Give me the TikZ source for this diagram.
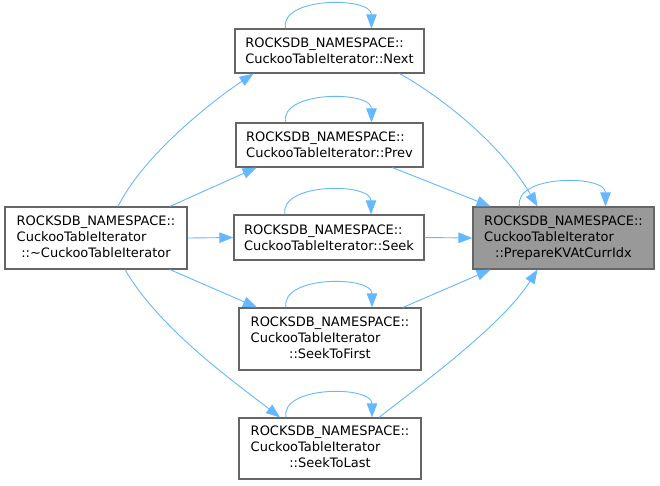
\documentclass[tikz,border=0pt]{standalone}
\usepackage{fontspec}
\setmainfont{DejaVu Sans}
\usepackage{tikz}
\usetikzlibrary{arrows.meta}
\definecolor{edgeBlue}{HTML}{63B8FF}
\definecolor{boxGrey}{HTML}{666666}
\definecolor{markFill}{HTML}{999999}
\newcommand{\fnLabel}[3]{%
  \begin{tabular}{@{}l@{}}#1\\#2\\\multicolumn{1}{@{}c@{}}{#3}\end{tabular}%
}
\newcommand{\selfLoop}[1]{%
  \draw[edgeStyle] ([xshift=-44]#1.north) .. controls +(-6,-32) and +(0,-32) .. ([xshift=42]#1.north);
}

\begin{document}
\begin{tikzpicture}[%
  x=1pt,y=-1pt,%
  boxStyle/.style={draw=boxGrey,line width=1.2pt,fill=white,inner sep=0pt,
    font=\fontsize{13}{16}\selectfont,align=left},%
  markStyle/.style={boxStyle,fill=markFill},%
  edgeStyle/.style={draw=edgeBlue,line width=0.9pt,-{Triangle[length=14pt,width=10.5pt]}}%
]
%
\useasboundingbox (0,0) rectangle (660,485);
%
\coordinate (cDtor) at (96,238);
\coordinate (cPrep) at (563.5,238);
\coordinate (cNext) at (329.5,51);
\coordinate (cPrev) at (329.5,145);
\coordinate (cSeek) at (329,237.5);
\coordinate (cFirst) at (330,339);
\coordinate (cLast) at (330,448.5);
%
% The boxes.
\node[boxStyle,minimum width=182,minimum height=62] (dtor) at (cDtor)
  {\fnLabel{ROCKSDB\_NAMESPACE::}{CuckooTableIterator}{::\textasciitilde CuckooTableIterator}};
\node[markStyle,minimum width=181,minimum height=62] (prep) at (cPrep)
  {\fnLabel{ROCKSDB\_NAMESPACE::}{CuckooTableIterator}{::PrepareKVAtCurrIdx}};
\node[boxStyle,minimum width=189,minimum height=44] (next) at (cNext)
  {ROCKSDB\_NAMESPACE::\\CuckooTableIterator::Next};
\node[boxStyle,minimum width=187,minimum height=44] (prev) at (cPrev)
  {ROCKSDB\_NAMESPACE::\\CuckooTableIterator::Prev};
\node[boxStyle,minimum width=190,minimum height=45] (seek) at (cSeek)
  {ROCKSDB\_NAMESPACE::\\CuckooTableIterator::Seek};
\node[boxStyle,minimum width=182,minimum height=62] (first) at (cFirst)
  {\fnLabel{ROCKSDB\_NAMESPACE::}{CuckooTableIterator}{::SeekToFirst}};
\node[boxStyle,minimum width=182,minimum height=61] (last) at (cLast)
  {\fnLabel{ROCKSDB\_NAMESPACE::}{CuckooTableIterator}{::SeekToLast}};
%
% Calls out of the destructor.
\draw[edgeStyle] ([xshift=22]dtor.north) .. controls +(25,-50) and +(-45,30) .. ([xshift=-76]next.south);
\draw[edgeStyle] ([xshift=74]dtor.north) -- ([xshift=-73]prev.south);
\draw[edgeStyle] (dtor.east) -- (seek.west);
\draw[edgeStyle] ([xshift=74]dtor.south) -- ([xshift=-73]first.north);
\draw[edgeStyle] ([xshift=29]dtor.south) .. controls +(35,60) and +(-45,-35) .. ([xshift=-50]last.north);
%
% Calls into PrepareKVAtCurrIdx.
\draw[edgeStyle] ([xshift=70]next.south) .. controls +(45,25) and +(-35,-60) .. ([xshift=-26]prep.north);
\draw[edgeStyle] ([xshift=63]prev.south) -- ([xshift=-73]prep.north);
\draw[edgeStyle] (seek.east) -- (prep.west);
\draw[edgeStyle] ([xshift=73]first.north) -- ([xshift=-73]prep.south);
\draw[edgeStyle] ([xshift=49]last.north) .. controls +(45,-35) and +(-35,55) .. ([xshift=-26]prep.south);
%
% Self calls.
\selfLoop{next}
\selfLoop{prev}
\selfLoop{seek}
\selfLoop{first}
\selfLoop{last}
\selfLoop{prep}
\end{tikzpicture}
\end{document}
